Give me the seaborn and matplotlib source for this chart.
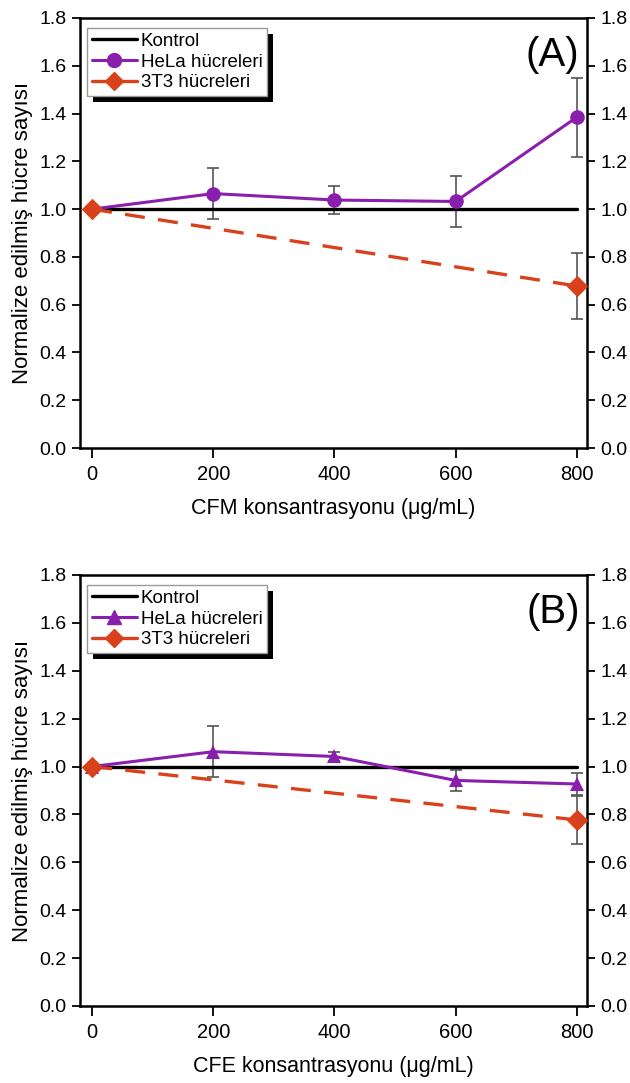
import numpy as np
import pandas as pd
import seaborn as sns
import matplotlib.pyplot as plt
from matplotlib.lines import Line2D
from matplotlib.patches import Rectangle
from matplotlib.transforms import IdentityTransform

# data
conc = [0, 200, 400, 600, 800]
control = [1.0, 1.0, 1.0, 1.0, 1.0]

hela_A = [1.0, 1.065, 1.038, 1.032, 1.385]
hela_A_err = [0.0, 0.106, 0.06, 0.105, 0.165]
t3_conc = [0, 800]
t3_A = [1.0, 0.678]
t3_A_err = [0.0, 0.14]

hela_B = [1.0, 1.062, 1.042, 0.942, 0.927]
hela_B_err = [0.0, 0.107, 0.02, 0.045, 0.045]
t3_B = [1.0, 0.777]
t3_B_err = [0.0, 0.10]

yticks = [0.0, 0.2, 0.4, 0.6, 0.8, 1.0, 1.2, 1.4, 1.6, 1.8]

sns.set_style("ticks")
plt.rcParams['font.family'] = ['Liberation Sans', 'DejaVu Sans']
plt.rcParams['text.color'] = 'black'
plt.rcParams['axes.labelcolor'] = 'black'

purple = '#8a1fae'
red = '#d9401c'
grey = '#555555'

fig = plt.figure(figsize=(6.3, 10.83), dpi=100)
axA = fig.add_axes([0.127, 0.5863, 0.805, 0.3971])
axB = fig.add_axes([0.127, 0.0711, 0.805, 0.3980])


def panel(ax, hela, hela_err, t3, t3_err, marker, tag, xlabel):
    df_c = pd.DataFrame({'x': conc, 'y': control})
    df_h = pd.DataFrame({'x': conc, 'y': hela})
    df_t = pd.DataFrame({'x': t3_conc, 'y': t3})

    ax.errorbar(conc, hela, yerr=hela_err, fmt='none', ecolor=grey,
                elinewidth=1.2, capsize=4, capthick=1.2, zorder=1)
    ax.errorbar(t3_conc, t3, yerr=t3_err, fmt='none', ecolor=grey,
                elinewidth=1.2, capsize=4, capthick=1.2, zorder=1)

    sns.lineplot(data=df_c, x='x', y='y', ax=ax, color='black', lw=2.4, zorder=2)
    sns.lineplot(data=df_t, x='x', y='y', ax=ax, color=red, lw=2.4,
                 dashes=False, zorder=3).lines[-1].set_dashes([6, 4])
    sns.lineplot(data=df_h, x='x', y='y', ax=ax, color=purple, lw=2.2,
                 marker=marker, markersize=10.5, markeredgewidth=0, zorder=4)
    sns.scatterplot(data=df_t, x='x', y='y', ax=ax, color=red, marker='D',
                    s=120, linewidth=0, zorder=5)

    ax.set_xlim(-20, 817)
    ax.set_ylim(0, 1.8)
    ax.set_xticks(conc)
    ax.set_yticks(yticks)
    ax.set_yticklabels([f'{v:.1f}' for v in yticks])
    ax.tick_params(axis='both', labelsize=14, direction='out', length=6,
                   width=1.3, colors='black')
    ax.tick_params(axis='x', length=7, pad=5, labelsize=14.5)
    ax.tick_params(axis='y', right=True, labelright=True)
    for s in ax.spines.values():
        s.set_linewidth(1.8)
        s.set_color('black')
        s.set_visible(True)
    ax.set_xlabel(xlabel, fontsize=15.5, labelpad=10)
    ax.set_ylabel('Normalize edilmiş hücre sayısı', fontsize=16, labelpad=5)
    ax.text(0.985, 0.915, tag, transform=ax.transAxes, fontsize=29,
            ha='right', va='center')

    handles = [
        Line2D([], [], color='black', lw=2.4),
        Line2D([], [], color=purple, lw=2.2, marker=marker, markersize=10),
        Line2D([], [], color=red, lw=2.4, marker='D', markersize=9),
    ]
    leg = ax.legend(handles, ['Kontrol', 'HeLa hücreleri', '3T3 hücreleri'],
                    loc='upper left', bbox_to_anchor=(0.014, 0.977),
                    fontsize=13.5, handlelength=2.4, handletextpad=0.2,
                    labelspacing=0.2, borderpad=0.25, borderaxespad=0.0,
                    fancybox=False, framealpha=1, edgecolor='#999999')
    leg.get_frame().set_linewidth(1.0)
    leg.set_zorder(10)
    return leg


legA = panel(axA, hela_A, hela_A_err, t3_A, t3_A_err, 'o', '(A)',
             'CFM konsantrasyonu (μg/mL)')
legB = panel(axB, hela_B, hela_B_err, t3_B, t3_B_err, '^', '(B)',
             'CFE konsantrasyonu (μg/mL)')

# offset black shadow behind each legend box
fig.canvas.draw()
for ax, leg in [(axA, legA), (axB, legB)]:
    bb = leg.get_window_extent()
    fig.add_artist(Rectangle((bb.x0 + 6, bb.y0 - 6), bb.width, bb.height,
                             transform=IdentityTransform(), facecolor='black',
                             edgecolor='none', zorder=2.5))
    leg.remove()
    fig.add_artist(leg)
    leg.set_zorder(3)

fig.savefig('out.png', dpi=100)
